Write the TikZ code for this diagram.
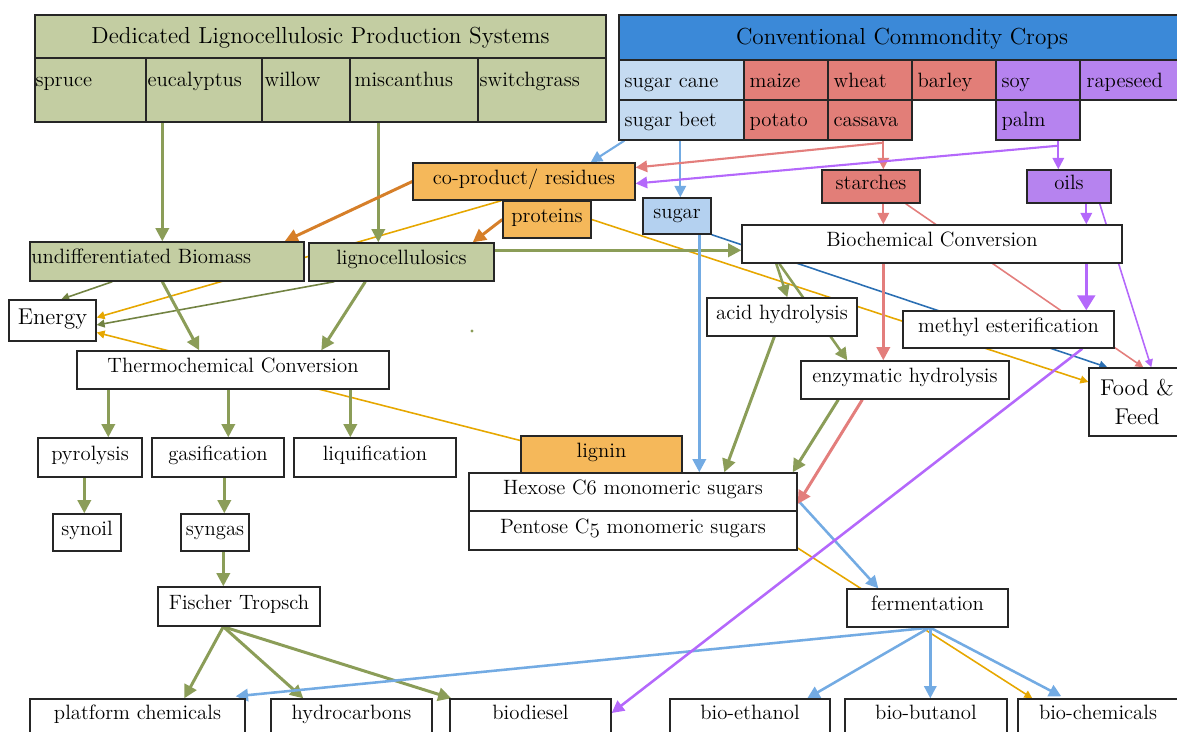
\documentclass[tikz,border=0pt]{standalone}
\usepackage{fontspec}
\usetikzlibrary{arrows.meta,calc}
\definecolor{gfill}{HTML}{C3CDA2}
\definecolor{gcol}{HTML}{8B9D58}
\definecolor{dolive}{HTML}{728342}
\definecolor{ofill}{HTML}{F5B85A}
\definecolor{ocol}{HTML}{D67F29}
\definecolor{ycol}{HTML}{E6A700}
\definecolor{bhead}{HTML}{3B89D8}
\definecolor{cfill}{HTML}{C5DBF1}
\definecolor{sfill}{HTML}{B4D1F0}
\definecolor{bcol}{HTML}{73ABE3}
\definecolor{dbcol}{HTML}{2B6FB3}
\definecolor{rfill}{HTML}{E27E78}
\definecolor{rcol}{HTML}{E37E7C}
\definecolor{pfill}{HTML}{B683EF}
\definecolor{pcol}{HTML}{B468FB}
\pgfdeclarelayer{bg}
\pgfsetlayers{bg,main}
\newcommand\fs{\fontsize{11.8}{14}\selectfont}
\newcommand\fsh{\fontsize{13.2}{16}\selectfont}
\newcommand\fsl{\fontsize{13}{16.5}\selectfont}
\newcommand\osf[1]{{\usefont{OML}{cmm}{m}{it}#1}}
\begin{document}
\begin{tikzpicture}[x=0.02cm,y=-0.02cm,
  wh/.style 2 args={minimum width=#1*0.02cm, minimum height=#2*0.02cm},
  boxbase/.style={draw=black!85, line width=0.8pt, rectangle, inner sep=0pt, fill=white, font=\fs},
  box/.style={boxbase, text height=8pt, text depth=4.6pt},
  hdr/.style={boxbase, font=\fsh, text height=9pt, text depth=1.6pt},
  cell/.style={boxbase},
  ctext/.style={anchor=base west, inner sep=0pt, font=\fs},
  thk/.style={line width=1.7pt, -{Triangle[length=7.5pt,width=7.5pt]}},
  med/.style={line width=1.45pt, -{Triangle[length=7pt,width=7pt]}},
  mid/.style={line width=1.2pt, -{Triangle[length=6.5pt,width=6.5pt]}},
  thn/.style={line width=0.9pt, -{Triangle[length=4.5pt,width=4.5pt]}},
]
\useasboundingbox (0,0) rectangle (1177,731);
\clip (0,0) rectangle (1177,731);

% ---- Dedicated lignocellulosic header
\node[hdr, fill=gfill, wh={571}{43}] (dls) at (320.5,36.5) {Dedicated Lignocellulosic Production Systems};
\node[cell, fill=gfill, wh={111}{64}] (spruce) at (90.5,90) {};
\node[cell, fill=gfill, wh={116}{64}] (euc) at (204,90) {};
\node[cell, fill=gfill, wh={88}{64}] (willow) at (306,90) {};
\node[cell, fill=gfill, wh={128}{64}] (misc) at (414,90) {};
\node[cell, fill=gfill, wh={128}{64}] (switch) at (542,90) {};
\node[ctext] (tspruce) at ($(spruce.north west)+(1,29)$) {spruce};
\node[ctext] (teuc) at ($(euc.north west)+(2,29)$) {eucalyptus};
\node[ctext] (twillow) at ($(willow.north west)+(3,29)$) {willow};
\node[ctext] (tmisc) at ($(misc.north west)+(5,29)$) {miscanthus};
\node[ctext] (tswitch) at ($(switch.north west)+(2,29)$) {switchgrass};

% ---- Conventional commodity crops
\node[hdr, fill=bhead, wh={566}{45}] (ccc) at (902,37.5) {Conventional Commondity Crops};
\node[cell, fill=cfill, wh={125}{40}] (scane) at (681.5,80) {};
\node[cell, fill=rfill, wh={84}{40}] (maize) at (786,80) {};
\node[cell, fill=rfill, wh={84}{40}] (wheat) at (870,80) {};
\node[cell, fill=rfill, wh={84}{40}] (barley) at (954,80) {};
\node[cell, fill=pfill, wh={84}{40}] (soy) at (1038,80) {};
\node[cell, fill=pfill, wh={105}{40}] (rape) at (1132.5,80) {};
\node[cell, fill=cfill, wh={125}{40}] (sbeet) at (681.5,120) {};
\node[cell, fill=rfill, wh={84}{40}] (potato) at (786,120) {};
\node[cell, fill=rfill, wh={84}{40}] (cassava) at (870,120) {};
\node[cell, fill=pfill, wh={84}{40}] (palm) at (1038,120) {};
\node[ctext] (tscane) at ($(scane.north west)+(6,28)$) {sugar cane};
\node[ctext] (tmaize) at ($(maize.north west)+(6,28)$) {maize};
\node[ctext] (twheat) at ($(wheat.north west)+(6,28)$) {wheat};
\node[ctext] (tbarley) at ($(barley.north west)+(6,28)$) {barley};
\node[ctext] (tsoy) at ($(soy.north west)+(6,28)$) {soy};
\node[ctext] (trape) at ($(rape.north west)+(7,28)$) {rapeseed};
\node[ctext] (tsbeet) at ($(sbeet.north west)+(6,27)$) {sugar beet};
\node[ctext] (tpotato) at ($(potato.north west)+(6,27)$) {potato};
\node[ctext] (tcassava) at ($(cassava.north west)+(6,27)$) {cassava};
\node[ctext] (tpalm) at ($(palm.north west)+(6,27)$) {palm};

% ---- intermediate boxes
\node[box, fill=ofill, wh={222}{37}] (coprod) at (524,181.5) {co-product/ residues};
\node[box, fill=ofill, wh={88}{37}] (prot) at (547,219.5) {proteins};
\node[box, fill=sfill, wh={68}{36}] (sugar) at (677,216) {sugar};
\node[box, fill=rfill, wh={98}{33}] (starch) at (871,186.5) {starches};
\node[box, fill=pfill, wh={84}{33}] (oils) at (1069,186.5) {oils};
\node[box, wh={380}{38}] (biochem) at (932,244) {Biochemical Conversion};
\node[box, fill=gfill, wh={274}{39}] (undiff) at (167,261.5) {};
\node[ctext] (tundiff) at (31,263) {undifferentiated Biomass};
\node[box, fill=gfill, wh={185}{38}] (ligno) at (401.5,262) {lignocellulosics};
\node[boxbase, font=\fsl, text height=9pt, text depth=3.9pt, wh={87}{41}] (energy) at (52.5,320.5) {Energy};
\node[box, wh={150}{38}] (acid) at (782,317) {acid hydrolysis};
\node[box, wh={211}{37}] (methyl) at (1008.5,329.5) {methyl esterification};
\node[box, wh={312}{38}] (thermo) at (233,370) {Thermochemical Conversion};
\node[box, wh={208}{38}] (enzym) at (905,380) {enzymatic hydrolysis};
\node[boxbase, font=\fsl, align=center, wh={96}{68}] (food) at (1137,402) {Food \&\\Feed};
\node[box, wh={104}{39}] (pyro) at (90,457.5) {pyrolysis};
\node[box, wh={132}{39}] (gasif) at (218,457.5) {gasification};
\node[box, wh={162}{39}] (liqui) at (375,457.5) {liquification};
\node[box, fill=ofill, wh={161}{37}] (lignin) at (601.5,454.5) {lignin};
\node[box, wh={328}{38}] (hexose) at (633,492) {Hexose C6 monomeric sugars};
\node[box, wh={328}{39}] (pentose) at (633,530.5) {Pentose C\osf{5} monomeric sugars};
\node[box, wh={68}{37}] (synoil) at (87,532.5) {synoil};
\node[box, wh={68}{37}] (syngas) at (215,532.5) {syngas};
\node[box, wh={162}{39}] (ft) at (239,606.5) {Fischer Tropsch};
\node[box, wh={161}{38}] (ferm) at (927.5,608) {fermentation};
\node[box, wh={215}{36}] (plat) at (137.5,717) {platform chemicals};
\node[box, wh={161}{36}] (hydro) at (351.5,717) {hydrocarbons};
\node[box, wh={161}{36}] (biod) at (530.5,717) {biodiesel};
\node[box, wh={160}{36}] (beth) at (750,717) {bio-ethanol};
\node[box, wh={162}{36}] (bbut) at (926,717) {bio-butanol};
\node[box, wh={160}{36}] (bchem) at (1098,717) {bio-chemicals};

\begin{pgfonlayer}{bg}
\fill[gcol] (472,331) circle[radius=0.9pt];
% thin yellow
\draw[thn, ycol] ($(coprod.south west)+(89,0)$) -- ($(energy.east)+(0,-3)$);
\draw[thn, ycol] ($(lignin.west)+(0,-14)$) -- ($(energy.east)+(0,12)$);
\draw[thn, ycol] (prot.east) -- ($(food.west)+(0,-20)$);
\draw[thn, ycol] ($(lignin.east)+(-31,0)$) -- ($(bchem.north west)+(15,0)$);
% thin dark blue, red, purple
\draw[thn, dbcol] (sugar.south east) -- ($(food.north west)+(19,0)$);
\draw[thn, rcol] ($(starch.south east)+(-15,0)$) -- ($(food.north west)+(55,0)$);
\draw[thn, pcol] ($(oils.south east)+(-12,0)$) -- ($(food.north west)+(63,0)$);
% thin dark olive
\draw[thn, dolive] ($(undiff.south west)+(83,0)$) -- ($(energy.north west)+(53,0)$);
\draw[thn, dolive] ($(ligno.south west)+(26,0)$) -- ($(energy.east)+(0,4.5)$);
% green
\draw[thk, gcol] ($(euc.south west)+(17,0)$) -- ($(undiff.north west)+(133,0)$);
\draw[thk, gcol] ($(misc.south west)+(29,0)$) -- ($(ligno.north west)+(70,0)$);
\draw[thk, gcol] ($(ligno.north east)+(0,8)$) -- ($(biochem.north west)+(0,26)$);
\draw[thk, gcol] ($(undiff.south west)+(133,0)$) -- ($(thermo.north west)+(123,0)$);
\draw[thk, gcol] ($(ligno.south west)+(57,0)$) -- ($(thermo.north west)+(245,0)$);
\draw[thk, gcol] ($(thermo.south west)+(32,0)$) -- ($(pyro.north west)+(71,0)$);
\draw[thk, gcol] ($(thermo.south west)+(152,0)$) -- ($(gasif.north west)+(77,0)$);
\draw[thk, gcol] ($(thermo.south west)+(274,0)$) -- ($(liqui.north west)+(57,0)$);
\draw[thk, gcol] ($(pyro.south west)+(47,0)$) -- ($(synoil.north west)+(32,0)$);
\draw[thk, gcol] ($(gasif.south west)+(73,0)$) -- ($(syngas.north west)+(44,0)$);
\draw[thk, gcol] ($(syngas.south west)+(43,0)$) -- ($(ft.north west)+(66,0)$);
\draw[thk, gcol] ($(ft.south west)+(66,0)$) -- ($(plat.north west)+(155,0)$);
\draw[thk, gcol] ($(ft.south west)+(66,0)$) -- ($(hydro.north west)+(33,0)$);
\draw[thk, gcol] ($(ft.south west)+(66,0)$) -- ($(biod.north west)+(2,0)$);
\draw[med, gcol] ($(biochem.south west)+(35,0)$) -- ($(acid.north west)+(81,0)$);
\draw[med, gcol] ($(biochem.south west)+(38,0)$) -- ($(enzym.north west)+(47,0)$);
\draw[thk, gcol] ($(acid.south west)+(68,0)$) -- ($(hexose.north west)+(256,0)$);
\draw[thk, gcol] ($(enzym.south west)+(38,0)$) -- ($(hexose.north east)+(-5,0)$);
% orange
\draw[thk, ocol] (coprod.west) -- ($(undiff.north east)+(-20,0)$);
\draw[thk, ocol] (prot.west) -- ($(ligno.north east)+(-22,0)$);
% light blue
\draw[mid, bcol] ($(sbeet.south west)+(62,0)$) -- ($(sugar.north west)+(38,0)$);
\draw[mid, bcol] ($(sbeet.south west)+(6,0)$) -- ($(coprod.north east)+(-45,0)$);
\draw[thk, bcol] ($(sugar.south west)+(57,0)$) -- ($(hexose.north west)+(231,0)$);
\draw[med, bcol] ($(hexose.east)+(0,8)$) -- ($(ferm.north west)+(32,0)$);
\draw[med, bcol] ($(ferm.south west)+(83,0)$) -- ($(plat.north east)+(-10,-2)$);
\draw[med, bcol] ($(ferm.south west)+(83,0)$) -- ($(beth.north west)+(138,0)$);
\draw[med, bcol] ($(ferm.south west)+(84,0)$) -- ($(bbut.north west)+(86,0)$);
\draw[med, bcol] ($(ferm.south west)+(84,0)$) -- ($(bchem.north west)+(44,-2)$);
% red
\draw[mid, rcol] ($(cassava.south west)+(56,0)$) -- ($(starch.north west)+(62,0)$);
\draw[mid, rcol] ($(cassava.south west)+(56,2)$) -- ($(coprod.east)+(0,-14)$);
\draw[mid, rcol] ($(starch.south west)+(62,0)$) -- ($(biochem.north west)+(142,0)$);
\draw[thk, rcol] ($(biochem.south west)+(142,0)$) -- ($(enzym.north west)+(83,0)$);
\draw[thk, rcol] ($(enzym.south west)+(62,0)$) -- ($(hexose.east)+(0,12)$);
% purple
\draw[mid, pcol] ($(palm.south west)+(63,0)$) -- ($(oils.north west)+(32,0)$);
\draw[mid, pcol] ($(palm.south west)+(63,5)$) -- ($(coprod.east)+(0,2)$);
\draw[mid, pcol] ($(oils.south west)+(60,0)$) -- ($(biochem.north west)+(345,0)$);
\draw[line width=1.7pt, pcol, -{Triangle[length=8.5pt,width=10pt]}] ($(biochem.south west)+(345,0)$) -- ($(methyl.north west)+(184,0)$);
\draw[med, pcol] ($(methyl.south west)+(180,0)$) -- ($(biod.east)+(0,-4)$);
\end{pgfonlayer}
\end{tikzpicture}
\end{document}
